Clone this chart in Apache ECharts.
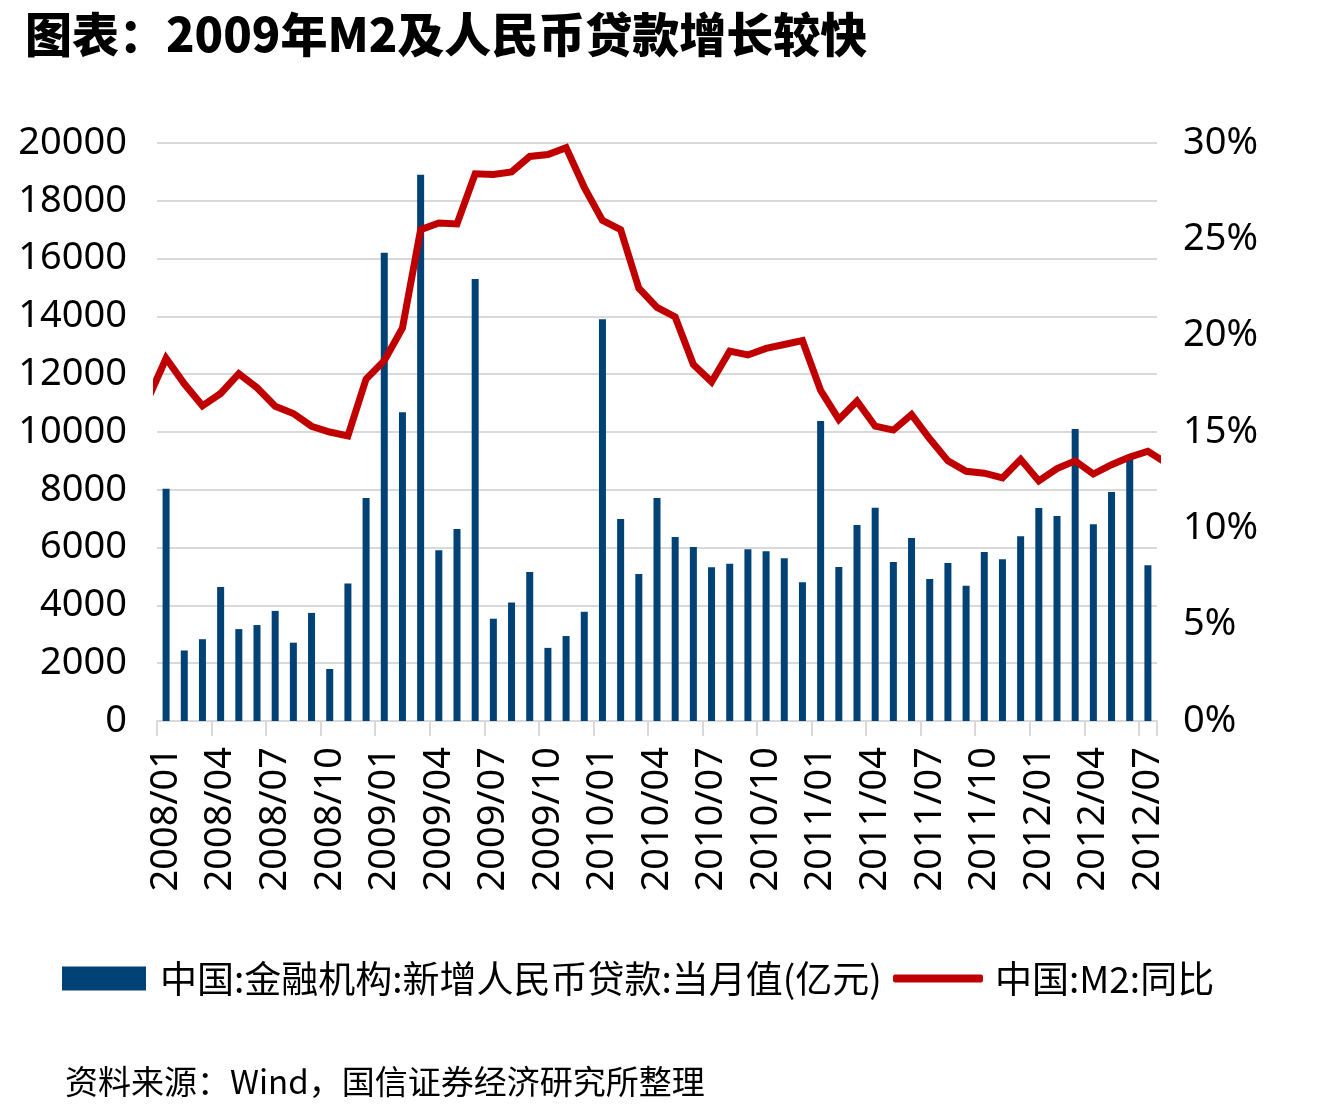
<!DOCTYPE html>
<html>
<head>
<meta charset="utf-8">
<script src="https://cdn.jsdelivr.net/npm/echarts@6/dist/echarts.min.js"></script>
<style>
html,body{margin:0;padding:0;background:#fff;}
#chart{width:1335px;height:1110px;}
</style>
</head>
<body>
<div id="chart"></div>
<script>
const months = [
  '2008/01','2008/02','2008/03','2008/04','2008/05','2008/06','2008/07','2008/08','2008/09','2008/10','2008/11','2008/12',
  '2009/01','2009/02','2009/03','2009/04','2009/05','2009/06','2009/07','2009/08','2009/09','2009/10','2009/11','2009/12',
  '2010/01','2010/02','2010/03','2010/04','2010/05','2010/06','2010/07','2010/08','2010/09','2010/10','2010/11','2010/12',
  '2011/01','2011/02','2011/03','2011/04','2011/05','2011/06','2011/07','2011/08','2011/09','2011/10','2011/11','2011/12',
  '2012/01','2012/02','2012/03','2012/04','2012/05','2012/06','2012/07'
];
// 中国:金融机构:新增人民币贷款:当月值(亿元)
const loans = [
  8040, 2440, 2830, 4640, 3180, 3320, 3810, 2710, 3740, 1800, 4760, 7720,
  16200, 10680, 18900, 5910, 6640, 15290, 3540, 4100, 5160, 2530, 2940, 3780,
  13900, 6990, 5090, 7720, 6370, 6020, 5320, 5440, 5940, 5870, 5630, 4800,
  10380, 5330, 6780, 7380, 5500, 6330, 4910, 5470, 4680, 5850, 5600, 6390,
  7370, 7090, 10100, 6810, 7920, 9190, 5390
];
// 中国:M2:同比 (%)
const m2 = [
  18.83, 17.5, 16.36, 17.0, 18.03, 17.3, 16.34, 15.96, 15.3, 15.0, 14.8, 17.75,
  18.7, 20.4, 25.5, 25.85, 25.8, 28.4, 28.37, 28.5, 29.3, 29.4, 29.76, 27.7,
  25.98, 25.5, 22.46, 21.47, 20.97, 18.5, 17.6, 19.2, 19.0, 19.34, 19.54, 19.74,
  17.16, 15.65, 16.6, 15.3, 15.1, 15.9, 14.65, 13.5, 12.96, 12.86, 12.62, 13.58,
  12.46, 13.1, 13.5, 12.82, 13.3, 13.7, 14.0
];
// line continues beyond the visible range (clipped at plot edges)
const m2Before = 16.7;  // 2007/12
const m2After = 13.4;   // 2012/08

const leftTicks = { min: 0, max: 20000, interval: 2000 };
const rightTicks = { min: 0, max: 30, interval: 5 };

const NUM_FONT = '"Noto Sans", "Noto Sans CJK SC", sans-serif';
const CJK_FONT = '"Noto Sans CJK SC", "Noto Sans", sans-serif';

const BAR_NAME = '中国:金融机构:新增人民币贷款:当月值(亿元)';
const LINE_NAME = '中国:M2:同比';

const lineData = [[-1, m2Before]].concat(m2.map((v, i) => [i, v])).concat([[m2.length, m2After]]);

const chart = echarts.init(document.getElementById('chart'), null, { renderer: 'canvas' });
chart.setOption({
  backgroundColor: '#ffffff',
  animation: false,
  title: [
    {
      text: '图表：2009年M2及人民币贷款增长较快',
      left: 20, top: 6,
      textStyle: { fontFamily: CJK_FONT, fontSize: 47, fontWeight: 900, color: '#000' }
    },
    {
      text: '资料来源：Wind，国信证券经济研究所整理',
      left: 60, top: 1060,
      textStyle: { fontFamily: CJK_FONT, fontSize: 33, fontWeight: 'normal', color: '#000' }
    }
  ],
  legend: [
    {
      left: 62, top: 960, padding: 0,
      itemWidth: 84, itemHeight: 24,
      selectedMode: false,
      textStyle: { fontFamily: CJK_FONT, fontSize: 37, color: '#000', padding: [0, 0, 0, 9] },
      data: [{ name: BAR_NAME, icon: 'rect' }]
    },
    {
      left: 893, top: 960, padding: 0,
      itemWidth: 90, itemHeight: 8,
      selectedMode: false,
      textStyle: { fontFamily: CJK_FONT, fontSize: 37, color: '#000', padding: [0, 0, 0, 7] },
      data: [{ name: LINE_NAME, icon: 'roundRect', itemStyle: { color: '#c00000' } }]
    }
  ],
  grid: { left: 157, right: 178, top: 143, bottom: 389, containLabel: false, outerBoundsMode: 'none' },
  xAxis: [
    {
      type: 'category', data: months, boundaryGap: true,
      axisLine: { show: true, lineStyle: { color: '#d9d9d9', width: 2 } },
      axisTick: { show: true, interval: 2, length: 15, lineStyle: { color: '#d9d9d9', width: 2 } },
      axisLabel: { interval: 2, rotate: 90, margin: 26, fontFamily: NUM_FONT, fontSize: 38, color: '#000', hideOverlap: false },
      splitLine: { show: false }
    },
    {
      type: 'value', min: -0.5, max: months.length - 0.5, show: false,
      axisLine: { show: false }, axisTick: { show: false }, axisLabel: { show: false }, splitLine: { show: false }
    }
  ],
  yAxis: [
    {
      type: 'value', min: leftTicks.min, max: leftTicks.max, interval: leftTicks.interval,
      axisLine: { show: false }, axisTick: { show: false },
      axisLabel: { margin: 30, fontFamily: NUM_FONT, fontSize: 38, color: '#000', formatter: (v) => String(v) },
      splitLine: { show: true, lineStyle: { color: '#d9d9d9', width: 2 } }
    },
    {
      type: 'value', min: rightTicks.min, max: rightTicks.max, interval: rightTicks.interval,
      position: 'right',
      axisLine: { show: false }, axisTick: { show: false },
      axisLabel: { margin: 26, fontFamily: NUM_FONT, fontSize: 38, color: '#000', formatter: (v) => v + '%' },
      splitLine: { show: false }
    }
  ],
  series: [
    {
      name: BAR_NAME,
      type: 'bar', xAxisIndex: 0, yAxisIndex: 0,
      data: loans, barWidth: 7,
      itemStyle: { color: '#004276' },
      z: 2
    },
    {
      name: LINE_NAME,
      type: 'line', xAxisIndex: 1, yAxisIndex: 1,
      data: lineData, symbol: 'none', clip: true,
      lineStyle: { color: '#c00000', width: 7, join: 'miter' },
      itemStyle: { color: '#c00000' },
      z: 3
    }
  ]
});
</script>
</body>
</html>
